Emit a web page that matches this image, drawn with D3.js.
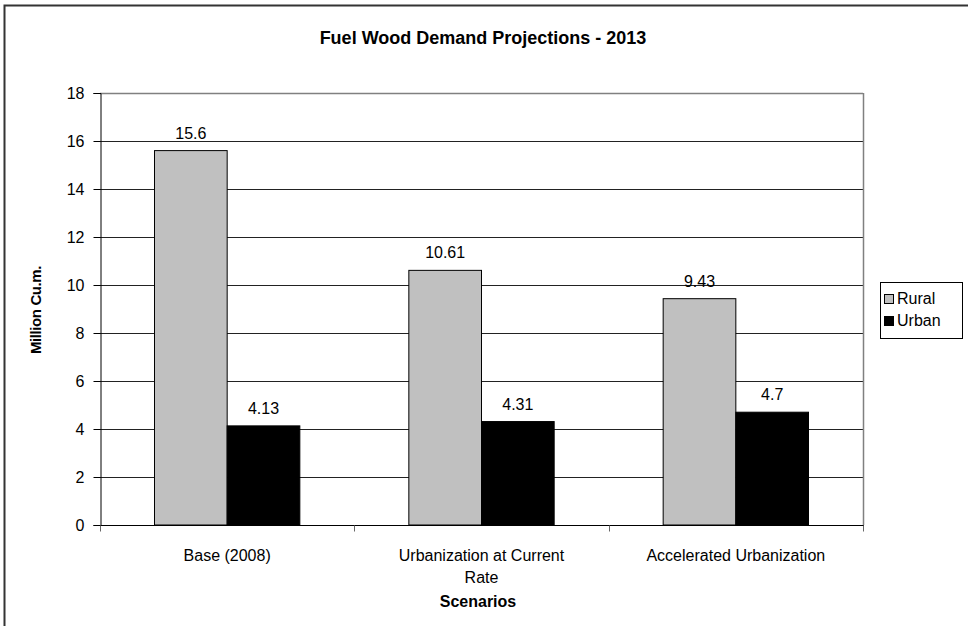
<!DOCTYPE html>
<html>
<head>
<meta charset="utf-8">
<script src="https://cdn.jsdelivr.net/npm/d3@7"></script>
<style>
	body { margin: 0; background: #fff; }
	text { font-family: "Liberation Sans", Arial, sans-serif; }
</style>
</head>
<body>
<div class="content"></div>
<script>
(function() {
	// chart data
	var scenarios = ["Base (2008)", "Urbanization at Current Rate", "Accelerated Urbanization"];
	var seriesNames = ["Rural", "Urban"];
	var rural = [15.6, 10.61, 9.43];
	var urban = [4.13, 4.31, 4.7];
	var yTicks = [0, 2, 4, 6, 8, 10, 12, 14, 16, 18];
	var colors = ["#c0c0c0", "#000000"];

	var W = 968, H = 626;
	var plot = { left: 100, right: 863, top: 93, bottom: 525 };

	var svg = d3.select(".content")
		.append("svg")
		.attr("width", W)
		.attr("height", H);

	// outer frame (only top & left visible)
	svg.append("path")
		.attr("d", "M4.5," + H + "V5.5H" + W)
		.attr("fill", "none")
		.attr("stroke", "#333")
		.attr("stroke-width", 2);

	var x0 = d3.scaleBand()
		.domain(scenarios)
		.range([plot.left, plot.right])
		.paddingInner(0)
		.paddingOuter(0);

	// gap width 150% like excel
	var x1 = d3.scaleBand()
		.domain(seriesNames)
		.range([0, x0.bandwidth()])
		.paddingOuter(0.75)
		.paddingInner(0);

	var y = d3.scaleLinear()
		.domain([0, 18])
		.range([plot.bottom, plot.top]);

	// gridlines
	svg.append("g")
		.selectAll("line")
		.data(yTicks.filter(function(d) { return d > 0; }))
		.enter().append("line")
		.attr("x1", plot.left)
		.attr("x2", plot.right)
		.attr("y1", function(d) { return Math.round(y(d)) + 0.5; })
		.attr("y2", function(d) { return Math.round(y(d)) + 0.5; })
		.attr("stroke", "#222")
		.attr("stroke-width", 1);

	// plot area border (top, right)
	svg.append("line")
		.attr("x1", plot.right + 0.5).attr("x2", plot.right + 0.5)
		.attr("y1", plot.top).attr("y2", plot.bottom)
		.attr("stroke", "#808080")
		.attr("stroke-width", 1.5);
	svg.append("line")
		.attr("x1", plot.left).attr("x2", plot.right)
		.attr("y1", plot.top + 0.5).attr("y2", plot.top + 0.5)
		.attr("stroke", "#808080")
		.attr("stroke-width", 1.5);

	// bars
	var rows = scenarios.map(function(s, i) {
		return { scenario: s, values: [rural[i], urban[i]] };
	});

	var groups = svg.append("g")
		.selectAll("g")
		.data(rows)
		.enter().append("g")
		.attr("transform", function(d) { return "translate(" + x0(d.scenario) + ",0)"; });

	groups.selectAll("rect")
		.data(function(d) {
			return d.values.map(function(v, j) { return { name: seriesNames[j], value: v, idx: j }; });
		})
		.enter().append("rect")
		.attr("x", function(d) { return x1(d.name); })
		.attr("y", function(d) { return y(d.value); })
		.attr("width", x1.bandwidth())
		.attr("height", function(d) { return y(0) - y(d.value); })
		.attr("fill", function(d) { return colors[d.idx]; })
		.attr("stroke", "#000")
		.attr("stroke-width", 1);

	groups.selectAll("text.val")
		.data(function(d) {
			return d.values.map(function(v, j) { return { name: seriesNames[j], value: v }; });
		})
		.enter().append("text")
		.attr("class", "val")
		.attr("x", function(d) { return x1(d.name) + x1.bandwidth() / 2; })
		.attr("y", function(d) { return y(d.value) - 12; })
		.attr("text-anchor", "middle")
		.style("font-size", "16px")
		.text(function(d) { return d.value; });

	// y axis
	var yAxis = svg.append("g")
		.attr("transform", "translate(" + (plot.left + 0.5) + ",0)")
		.call(d3.axisLeft(y).tickValues(yTicks).tickSize(7).tickPadding(9).tickFormat(d3.format("d")));
	yAxis.selectAll("text").style("font-size", "16px").attr("fill", "#000");
	yAxis.select(".domain").attr("stroke", "#000");

	// x axis
	var xAxis = svg.append("g")
		.attr("transform", "translate(0," + (plot.bottom + 0.5) + ")");
	xAxis.append("line")
		.attr("x1", plot.left).attr("x2", plot.right + 1)
		.attr("stroke", "#000");
	xAxis.selectAll("line.tick")
		.data(d3.range(scenarios.length + 1))
		.enter().append("line")
		.attr("class", "tick")
		.attr("x1", function(i) { return Math.round(plot.left + i * x0.step()) + 0.5; })
		.attr("x2", function(i) { return Math.round(plot.left + i * x0.step()) + 0.5; })
		.attr("y1", 0).attr("y2", 6)
		.attr("stroke", "#666");

	var catLines = [["Base (2008)"], ["Urbanization at Current", "Rate"], ["Accelerated Urbanization"]];
	xAxis.selectAll("text")
		.data(scenarios)
		.enter().append("text")
		.attr("x", function(d) { return x0(d) + x0.bandwidth() / 2; })
		.attr("y", 35)
		.attr("text-anchor", "middle")
		.style("font-size", "16px")
		.each(function(d, i) {
			var t = d3.select(this);
			catLines[i].forEach(function(line, k) {
				t.append("tspan")
					.attr("x", x0(d) + x0.bandwidth() / 2)
					.attr("dy", k === 0 ? 0 : 22)
					.text(line);
			});
		});

	// titles
	svg.append("text")
		.text("Fuel Wood Demand Projections - 2013")
		.attr("x", 483)
		.attr("y", 44)
		.attr("text-anchor", "middle")
		.style("font-weight", "bold")
		.style("font-size", "18px");

	svg.append("text")
		.text("Scenarios")
		.attr("x", 478)
		.attr("y", 607)
		.attr("text-anchor", "middle")
		.style("font-weight", "bold")
		.style("font-size", "16px");

	svg.append("text")
		.text("Million Cu.m.")
		.attr("transform", "translate(41,310) rotate(-90)")
		.attr("text-anchor", "middle")
		.style("font-weight", "bold")
		.style("font-size", "15px")
		.style("letter-spacing", "-0.4px");

	// legend
	var legend = svg.append("g").attr("transform", "translate(880,282)");
	legend.append("rect")
		.attr("x", 0.5).attr("y", 0.5)
		.attr("width", 82).attr("height", 56)
		.attr("fill", "#fff")
		.attr("stroke", "#000");
	seriesNames.forEach(function(name, i) {
		legend.append("rect")
			.attr("x", 4.5).attr("y", 12.5 + i * 22)
			.attr("width", 9).attr("height", 9)
			.attr("fill", colors[i])
			.attr("stroke", "#000");
		legend.append("text")
			.attr("x", 17).attr("y", 22 + i * 22)
			.style("font-size", "16px")
			.text(name);
	});
}());
</script>
</body>
</html>
